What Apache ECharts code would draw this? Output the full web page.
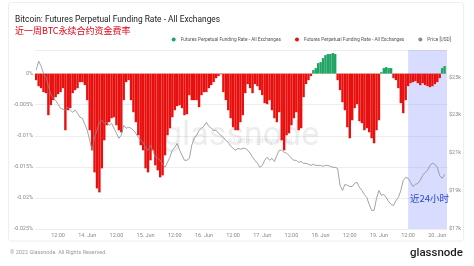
<!DOCTYPE html>
<html><head><meta charset="utf-8">
<script src="https://cdn.jsdelivr.net/npm/echarts@6/dist/echarts.min.js"></script>
<style>html,body{margin:0;padding:0;background:#fff}#c{width:474px;height:266px}</style>
</head><body><div id="c"></div>
<script>
// hours counted from 13 Jun 2022 00:00; first sample at 13 Jun 03:00, hourly
const startHour = 3;
const fundingRate = [
 -0.00105,-0.00202,-0.00234,-0.00298,-0.00315,-0.00669,-0.00508,-0.00427,-0.00379,-0.00331,
 -0.00298,-0.00234,-0.00911,-0.00589,-0.00556,-0.00315,-0.00266,-0.00234,-0.00137,-0.00137,
 -0.00185,-0.00427,-0.00911,-0.01234,-0.01589,-0.01847,-0.01911,-0.01524,-0.01073,-0.00831,
 -0.00782,-0.00718,-0.00702,-0.00831,-0.00911,-0.00944,-0.00427,-0.00137,-0.00105,-0.00427,
 -0.00621,-0.00782,-0.00992,-0.01153,-0.01234,-0.01524,-0.01589,-0.01395,-0.01234,-0.01476,
 -0.01557,-0.01669,-0.01637,-0.01315,-0.00992,-0.00879,-0.00702,-0.00589,-0.00524,-0.00508,
 -0.00556,-0.00669,-0.00653,-0.00347,-0.00427,-0.00427,-0.00427,-0.0054,-0.00347,-0.00298,
 -0.00298,-0.00234,-0.00185,-0.00137,-0.00073,-0.0004,-0.0001,-0.00298,-0.00427,-0.00589,
 -0.00718,-0.00863,-0.00911,-0.00911,-0.00782,-0.00669,-0.00315,-0.00169,-0.00234,-0.00315,
 -0.00169,-0.00202,-0.00266,-0.00347,-0.00476,-0.00492,-0.00427,-0.00589,-0.00718,-0.00782,
 -0.00621,-0.01073,-0.01234,-0.00992,-0.0096,-0.00831,-0.00718,-0.00621,-0.00911,-0.00879,
 -0.00379,-0.00169,-0.00105,-0.0004,0.00056,0.00089,0.00169,0.00185,0.0025,0.00298,
 0.00315,0.00315,0.00331,0.00315,-0.00105,-0.00266,-0.0046,-0.00589,-0.00863,-0.0104,
 -0.0075,-0.00556,-0.00492,-0.00766,-0.00798,-0.00911,-0.00879,-0.00944,-0.0104,-0.01121,
 -0.00911,-0.0075,0.00024,0.00089,0.00105,0.00089,0.00089,-0.00073,-0.00105,-0.00234,
 -0.00476,-0.00637,-0.00427,-0.00202,-0.00153,-0.00137,-0.00121,-0.00153,-0.00185,-0.00153,
 -0.00185,-0.00202,-0.00218,-0.00202,-0.00169,-0.00137,-0.00073,0.00089,0.00121
];
const price = [
 25370,25840,25580,25210,25000,24520,24100,23890,23780,23570,
 23360,23310,23260,23420,23260,23150,23260,23100,22890,22830,
 22520,22200,21670,21150,21830,22200,22620,22730,22570,22620,
 22460,22570,22310,22040,21780,21940,22460,22310,22360,22310,
 22200,22040,21830,21670,21570,21250,21150,21410,21150,20780,
 20720,20620,20410,20250,20510,20780,21150,21300,21510,21150,
 20880,20620,20620,20720,21410,21780,21940,22200,22310,22410,
 22620,22410,22310,22200,22200,22040,21940,21830,21670,21570,
 21360,21250,21150,21250,21200,21250,21250,21150,20990,20780,
 20620,20460,20250,20350,20620,20780,20620,20720,20560,20880,
 21150,21150,21040,20990,20880,20720,20620,20620,20510,20560,
 20460,20460,20410,20350,20410,20350,20350,20350,20300,20350,
 20350,20300,20250,20250,20190,19300,19030,19350,19300,19240,
 19240,19400,19460,19190,19030,18820,18660,18290,17980,17980,
 18610,19030,18770,18820,18660,18450,18290,18240,18500,18660,
 19030,19560,19720,19670,19460,19240,19350,19400,19560,19820,
 19980,20090,20350,20460,20410,20250,19820,19670,19880
];
const xTickHours = [12,24,36,48,60,72,84,96,108,120,132,144,156,168];
const xTickLabels = ['12:00','14. Jun','12:00','15. Jun','12:00','16. Jun','12:00','17. Jun','12:00','18. Jun','12:00','19. Jun','12:00','20. Jun'];
const priceTicks = [17000,19000,21000,23000,25000];
const bandStartHour = 156;
const legendLabels = {
  fundingPos: 'Futures Perpetual Funding Rate - All Exchanges',
  fundingNeg: 'Futures Perpetual Funding Rate - All Exchanges',
  price: 'Price [USD]'
};

const hours = fundingRate.map((_, i) => startHour + i);
const posData = fundingRate.map((v, i) => [hours[i], v >= 0 ? v : null]);
const negData = fundingRate.map((v, i) => [hours[i], v < 0 ? v : null]);
const priceData = price.map((v, i) => [hours[i], v]);

const FONT = 'Roboto, "Liberation Sans", sans-serif';
const chart = echarts.init(document.getElementById('c'), null, {renderer: 'canvas'});
chart.setOption({
  animation: false,
  backgroundColor: '#fff',
  title: [
    {text: 'Bitcoin: Futures Perpetual Funding Rate - All Exchanges', left: 10, top: 11,
     textStyle: {fontSize: 8.4, fontWeight: 'normal', color: '#222', fontFamily: FONT}},
    {text: '近一周BTC永续合约资金费率', left: 10, top: 21,
     textStyle: {fontSize: 9, fontWeight: 'normal', color: '#e60012', fontFamily: '"Noto Sans CJK SC", sans-serif'}}
  ],
  legend: {
    right: 18, top: 32, itemWidth: 4, itemHeight: 4, itemGap: 14, icon: 'circle',
    data: ['fundingPos', 'fundingNeg', 'price'],
    formatter: n => legendLabels[n],
    textStyle: {fontSize: 4.8, color: '#555', fontFamily: FONT}
  },
  grid: {left: 35, right: 27, top: 50, bottom: 37},
  xAxis: {
    type: 'value', min: 2.5, max: 172,
    axisLine: {show: false}, axisTick: {show: false}, splitLine: {show: false},
    axisLabel: {
      customValues: xTickHours, margin: 4,
      formatter: v => { const i = xTickHours.indexOf(Math.round(v)); return i >= 0 ? xTickLabels[i] : ''; },
      fontSize: 5.5, color: '#8a8a8a', fontFamily: FONT
    }
  },
  yAxis: [
    {
      type: 'value', min: -0.025, max: 0.0038, interval: 0.005,
      axisLine: {show: false}, axisTick: {show: false},
      splitLine: {lineStyle: {color: '#ededed', width: 1}},
      axisLabel: {
        showMaxLabel: false, margin: 2, fontSize: 5.5, color: '#8a8a8a', fontFamily: FONT,
        formatter: v => parseFloat(v.toFixed(4)) + '%'
      }
    },
    {
      type: 'value', min: 17000, max: 26430, position: 'right',
      axisLine: {show: false}, axisTick: {show: false}, splitLine: {show: false},
      axisLabel: {
        customValues: priceTicks, margin: 2, fontSize: 5.5, color: '#8a8a8a', fontFamily: FONT,
        formatter: v => '$' + Math.round(v / 1000) + 'k'
      }
    }
  ],
  series: [
    {name: 'fundingPos', type: 'bar', data: posData, barWidth: 2.4, barGap: '-100%',
     itemStyle: {color: '#1fa463'}, z: 2},
    {name: 'fundingNeg', type: 'bar', data: negData, barWidth: 2.4, barGap: '-100%',
     itemStyle: {color: '#e8100e'}, z: 2},
    {name: 'band', type: 'line', data: [], z: 3, silent: true,
     markArea: {silent: true, itemStyle: {color: 'rgba(110,128,255,0.27)'},
       data: [[{xAxis: bandStartHour}, {xAxis: 172}]]}},
    {name: 'price', type: 'line', yAxisIndex: 1, data: priceData, showSymbol: false,
     lineStyle: {color: '#8c8c8c', width: 0.8}, itemStyle: {color: '#8c8c8c'}, z: 4}
  ],
  graphic: [
    {type: 'rect', shape: {x: 8.5, y: 2.5, width: 455, height: 238.5, r: 3},
     style: {fill: 'none', stroke: '#eeeeee', lineWidth: 1}, silent: true, z: -1},
    {type: 'text', left: 163, top: 119, z: 1, silent: true,
     style: {text: 'glassnode', fontSize: 34, fontFamily: FONT, fill: 'rgba(0,0,0,0.07)'}},
    {type: 'text', left: 232, top: 138, z: 1, silent: true,
     style: {text: 'Twitter @Phyrex_Ni', fontSize: 7, fontFamily: FONT, fill: 'rgba(0,0,0,0.12)'}},
    {type: 'text', left: 410, top: 194, z: 10, silent: true,
     style: {text: '近24小时', fontSize: 9.5, fontFamily: '"Noto Sans CJK SC", sans-serif', fill: '#2a47d0'}},
    {type: 'text', left: 10, top: 250, silent: true,
     style: {text: '© 2022 Glassnode. All Rights Reserved.', fontSize: 5.5, fontFamily: FONT, fill: '#9a9a9a'}},
    {type: 'text', right: 11, top: 247, silent: true,
     style: {text: 'glassnode', fontSize: 11.5, fontWeight: 500, fontFamily: FONT, fill: '#1d1d1d'}}
  ]
});
</script></body></html>
